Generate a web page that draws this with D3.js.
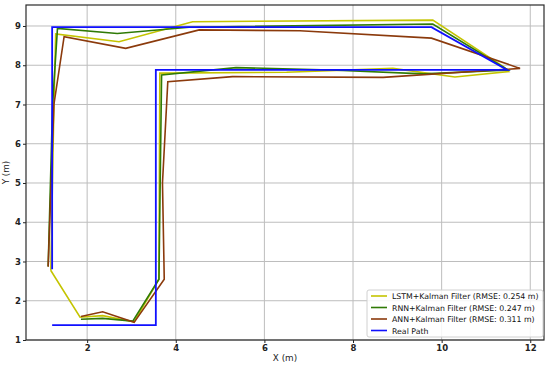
<!DOCTYPE html>
<html>
<head>
<meta charset="utf-8">
<script src="https://cdn.jsdelivr.net/npm/d3@7"></script>
<style>
  body { margin: 0; background: #fff; }
  text { font-family: "DejaVu Sans", sans-serif; }
</style>
</head>
<body>
<div class="chart"></div>
<script>
// series names, in legend order
const seriesNames = [
  "LSTM+Kalman Filter (RMSE: 0.254 m)",
  "RNN+Kalman Filter (RMSE: 0.247 m)",
  "ANN+Kalman Filter (RMSE: 0.311 m)",
  "Real Path"
];
const seriesColors = ["#c4c400", "#2f7a06", "#8b3a0c", "#1010ff"];

const lstmX = [1.18, 1.84, 2.35, 3.06, 3.62, 3.64, 6.5, 8.9, 10.3, 11.51, 11.4, 9.8, 4.38, 2.72, 1.29, 1.25, 1.18];
const lstmY = [2.77, 1.58, 1.62, 1.46, 2.55, 7.80, 7.82, 7.92, 7.70, 7.84, 7.96, 9.15, 9.11, 8.60, 8.80, 7.0, 2.77];

const rnnX = [1.86, 2.35, 3.03, 3.62, 3.68, 5.36, 7.5, 9.6, 11.5, 9.8, 4.3, 2.68, 1.33, 1.22, 1.12];
const rnnY = [1.53, 1.55, 1.48, 2.55, 7.75, 7.94, 7.88, 7.78, 7.88, 9.05, 8.97, 8.81, 8.94, 7.0, 2.87];

const annX = [1.86, 2.35, 3.06, 3.74, 3.70, 3.82, 5.28, 8.68, 11.77, 9.77, 6.8, 4.53, 2.87, 1.48, 1.25, 1.12];
const annY = [1.60, 1.72, 1.45, 2.55, 5.0, 7.58, 7.71, 7.69, 7.92, 8.69, 8.88, 8.90, 8.43, 8.73, 7.0, 2.87];

const realX = [1.21, 3.55, 3.55, 11.48, 9.77, 1.21, 1.21];
const realY = [1.38, 1.38, 7.88, 7.88, 8.97, 8.97, 2.80];

const xTicks = [2, 4, 6, 8, 10, 12];
const yTicks = [1, 2, 3, 4, 5, 6, 7, 8, 9];

const width = 550, height = 367;
const margin = {top: 5, right: 6, bottom: 27, left: 26};

const svg = d3.select(".chart")
  .append("svg")
  .attr("width", width)
  .attr("height", height);

const x = d3.scaleLinear()
  .domain([0.62, 12.31])
  .range([margin.left, width - margin.right]);
const y = d3.scaleLinear()
  .domain([1.0, 9.535])
  .range([height - margin.bottom, margin.top]);

// grid
svg.append("g")
  .selectAll("line")
  .data(xTicks)
  .enter().append("line")
  .attr("x1", d => x(d)).attr("x2", d => x(d))
  .attr("y1", margin.top).attr("y2", height - margin.bottom)
  .attr("stroke", "#bdbdbd").attr("stroke-width", 1);
svg.append("g")
  .selectAll("line")
  .data(yTicks)
  .enter().append("line")
  .attr("y1", d => y(d)).attr("y2", d => y(d))
  .attr("x1", margin.left).attr("x2", width - margin.right)
  .attr("stroke", "#bdbdbd").attr("stroke-width", 1);

// axes
const xAxis = svg.append("g")
  .attr("transform", "translate(0," + (height - margin.bottom) + ")")
  .call(d3.axisBottom(x).tickValues(xTicks).tickSize(3).tickPadding(2));
const yAxis = svg.append("g")
  .attr("transform", "translate(" + margin.left + ",0)")
  .call(d3.axisLeft(y).tickValues(yTicks).tickSize(3).tickPadding(2));
[xAxis, yAxis].forEach(ax => {
  ax.select(".domain").remove();
  ax.selectAll("line").attr("stroke", "#222");
  ax.selectAll("text")
    .attr("font-size", 8.5)
    .attr("font-family", "DejaVu Sans")
    .attr("font-weight", "bold")
    .attr("fill", "#222");
});

// lines
const data = [
  d3.zip(lstmX, lstmY),
  d3.zip(rnnX, rnnY),
  d3.zip(annX, annY),
  d3.zip(realX, realY)
];
const line = d3.line().x(d => x(d[0])).y(d => y(d[1]));
svg.append("g")
  .selectAll("path")
  .data(data)
  .enter().append("path")
  .attr("d", line)
  .attr("fill", "none")
  .attr("stroke", (d, i) => seriesColors[i])
  .attr("stroke-width", (d, i) => i === 3 ? 1.8 : 1.6)
  .attr("stroke-linejoin", "miter");

// frame
svg.append("rect")
  .attr("x", margin.left).attr("y", margin.top)
  .attr("width", width - margin.left - margin.right)
  .attr("height", height - margin.top - margin.bottom)
  .attr("fill", "none")
  .attr("stroke", "#2a2a2a")
  .attr("stroke-width", 1.2);

// axis labels
svg.append("text")
  .attr("x", (margin.left + width - margin.right) / 2)
  .attr("y", height - 6)
  .attr("text-anchor", "middle")
  .attr("font-size", 8.8)
  .attr("fill", "#222")
  .text("X (m)");
svg.append("text")
  .attr("transform", "translate(9," + ((margin.top + height - margin.bottom) / 2) + ") rotate(-90)")
  .attr("text-anchor", "middle")
  .attr("font-size", 8.8)
  .attr("fill", "#222")
  .text("Y (m)");

// legend
const legend = svg.append("g").attr("transform", "translate(367,290)");
legend.append("rect")
  .attr("width", 176).attr("height", 47)
  .attr("rx", 2)
  .attr("fill", "#fff").attr("fill-opacity", 0.85)
  .attr("stroke", "#d0d0d0");
const rows = legend.selectAll("g.row")
  .data(seriesNames)
  .enter().append("g")
  .attr("class", "row")
  .attr("transform", (d, i) => "translate(0," + (6 + i * 11.5) + ")");
rows.append("line")
  .attr("x1", 4).attr("x2", 20)
  .attr("stroke", (d, i) => seriesColors[i])
  .attr("stroke-width", 1.6);
rows.append("text")
  .attr("x", 25).attr("y", 3)
  .attr("font-size", 7.8)
  .attr("fill", "#111")
  .text(d => d);
</script>
</body>
</html>
